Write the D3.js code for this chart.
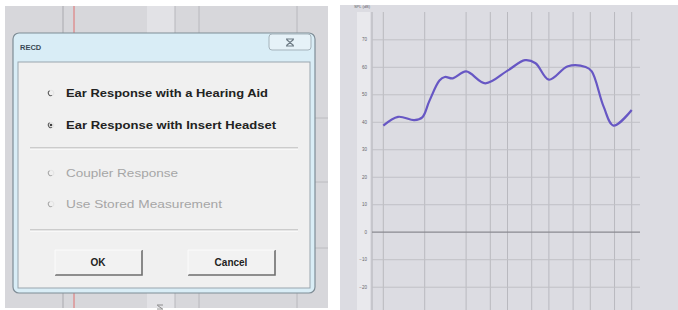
<!DOCTYPE html>
<html><head><meta charset="utf-8">
<script src="https://cdn.jsdelivr.net/npm/d3@7"></script>
<style>body{margin:0;background:#fff}svg{display:block}</style>
</head><body>
<svg id="c" width="678" height="310"></svg>
<script>
// ---- data ----
const freqTicks = [125,250,500,750,1000,1500,2000,3000,4000,6000,8000];
const dbTicks = [70,60,50,40,30,20,10,0,-10,-20];
const curveFreq = [125,160,210,240,270,320,350,400,500,690,1000,1340,1600,2000,2750,3700,4100,5000,5900,8000];
const curveDb   = [38.6,41.8,40.6,41.6,47.5,55.0,56.3,55.8,58.3,54.0,58.6,62.4,61.3,55.3,60.2,59.9,58.3,45.5,38.6,44.3];
const yLabel = "SPL (dB)";
const dialogTitle = "RECD";
const options = ["Ear Response with a Hearing Aid","Ear Response with Insert Headset","Coupler Response","Use Stored Measurement"];
const optEnabled = [true,true,false,false];
const optSelected = [false,true,false,false];
const buttons = ["OK","Cancel"];

const svg = d3.select("#c");
const font = "'Liberation Sans', Arial, sans-serif";

// ================= right panel: chart =================
const R = svg.append("g");
R.append("rect").attr("x",340).attr("y",5).attr("width",338).attr("height",305).attr("fill","#dcdce2");
R.append("rect").attr("x",357).attr("y",12).attr("width",13).attr("height",298).attr("fill","#e9e9ed");

const x = d3.scaleLog().domain([125,8000]).range([383.3,631.7]);
const y = d3.scaleLinear().domain([-20,70]).range([286.7,39.3]);

// vertical grid
R.append("g").selectAll("line").data(freqTicks).join("line")
  .attr("x1",d=>x(d)).attr("x2",d=>x(d)).attr("y1",12).attr("y2",310)
  .attr("stroke","#b9b9bf").attr("stroke-width",1);
R.append("line").attr("x1",372).attr("x2",372).attr("y1",12).attr("y2",310).attr("stroke","#b0b0b6");

// horizontal grid via axis
const yAxis = d3.axisLeft(y).tickValues(dbTicks).tickSize(-268).tickPadding(3);
const ga = R.append("g").attr("transform","translate(372,0)").call(yAxis);
ga.select(".domain").remove();
ga.selectAll(".tick line").attr("stroke",d=>d===0?"#8a8a90":"#c0c0c6").attr("stroke-width",d=>d===0?1.2:1);
ga.selectAll(".tick text").attr("font-size",4.5).attr("fill","#66666c").attr("font-family",font).attr("x",-5);

R.append("text").attr("x",362).attr("y",8).attr("font-size",4).attr("fill","#66666c")
  .attr("font-family",font).attr("text-anchor","middle").text(yLabel);

// curve
const pts = curveFreq.map((f,i)=>[f,curveDb[i]]);
R.append("path").datum(pts)
  .attr("d",d3.line().x(d=>x(d[0])).y(d=>y(d[1])).curve(d3.curveCatmullRom.alpha(0.5)))
  .attr("fill","none").attr("stroke","#6757c4").attr("stroke-width",2.2);

// ================= left panel: dialog screenshot =================
const L = svg.append("g");
L.append("rect").attr("x",5).attr("y",6).attr("width",323).attr("height",302).attr("fill","#d7d7db");
L.append("rect").attr("x",147).attr("y",6).attr("width",28).attr("height",302).attr("fill","#e2e2e6");
[[63,"#a9a9ae"],[175,"#b8b8bd"],[199,"#b8b8bd"],[297,"#b8b8bd"]].forEach(([xx,c])=>{
  L.append("line").attr("x1",xx).attr("x2",xx).attr("y1",6).attr("y2",308).attr("stroke",c);
});
L.append("line").attr("x1",74).attr("x2",74).attr("y1",6).attr("y2",308).attr("stroke","#e07070");
[118,182,248].forEach(yy=>L.append("line").attr("x1",310).attr("x2",328).attr("y1",yy).attr("y2",yy).attr("stroke","#bcbcc0"));

// dialog frame
L.append("rect").attr("x",13).attr("y",33).attr("width",302).attr("height",260).attr("rx",6)
  .attr("fill","#d9edf6").attr("stroke","#7f8d96").attr("stroke-width",1.2);
L.append("text").attr("x",20).attr("y",50).attr("font-size",7.5).attr("font-weight","bold")
  .attr("font-family",font).attr("fill","#3a4a55").text(dialogTitle);
L.append("rect").attr("x",269).attr("y",34).attr("width",42).attr("height",16).attr("rx",3)
  .attr("fill","#e6f2f8").attr("stroke","#a5b3bb");
// close glyph
L.append("path").attr("d","M286.5,39.5 L293.5,45.5 M293.5,39.5 L286.5,45.5 M286,39 H294 M286,46 H294")
  .attr("stroke","#6d7a84").attr("stroke-width",1.1).attr("fill","none");
L.append("rect").attr("x",18).attr("y",62).attr("width",292).attr("height",226)
  .attr("fill","#f0f0f0").attr("stroke","#9aa6ae");

// options
const optY = [93,125,173,204];
const optW = [202,210,112,156];
const arc = d3.arc().innerRadius(2.2).outerRadius(3.2);
const og = L.append("g").selectAll("g").data(options).join("g")
  .attr("transform",(d,i)=>`translate(51,${optY[i]})`);
og.append("path").attr("d",arc({startAngle:-Math.PI*0.15,endAngle:-Math.PI*1.15}))
  .attr("fill",(d,i)=>optEnabled[i]?"#5a5a5a":"#a8a8a8");
og.append("path").attr("d",arc({startAngle:-Math.PI*0.15,endAngle:Math.PI*0.85}))
  .attr("fill","#e4e4e4");
og.filter((d,i)=>optSelected[i]).append("circle").attr("r",1.3).attr("fill","#404040");
og.append("text").attr("x",15).attr("y",4)
  .attr("font-size",11).attr("font-weight",(d,i)=>optEnabled[i]?"bold":"normal")
  .attr("font-family",font).attr("fill",(d,i)=>optEnabled[i]?"#222":"#a6a6a6")
  .attr("textLength",(d,i)=>optW[i]).attr("lengthAdjust","spacingAndGlyphs").text(d=>d);

// separators
[148,230].forEach(yy=>{
  L.append("line").attr("x1",30).attr("x2",298).attr("y1",yy).attr("y2",yy).attr("stroke","#a8a8a8");
  L.append("line").attr("x1",30).attr("x2",298).attr("y1",yy+1).attr("y2",yy+1).attr("stroke","#ffffff");
});

// buttons
const bx = [55,188];
buttons.forEach((b,i)=>{
  const g = L.append("g");
  g.append("rect").attr("x",bx[i]).attr("y",250).attr("width",87).attr("height",25).attr("fill","#f2f2f2");
  g.append("path").attr("d",`M${bx[i]},275 H${bx[i]+87} V250`).attr("fill","none").attr("stroke","#6e6e6e").attr("stroke-width",1.6);
  g.append("path").attr("d",`M${bx[i]},275 V250 H${bx[i]+87}`).attr("fill","none").attr("stroke","#fbfbfb").attr("stroke-width",1);
  g.append("text").attr("x",bx[i]+43).attr("y",266).attr("text-anchor","middle")
    .attr("font-size",10).attr("font-weight","bold").attr("font-family",font).attr("fill","#222").text(b);
});
L.append("path").attr("d","M157,305 H163 M157,309 H163 M157.5,305.5 L162.5,309").attr("stroke","#777").attr("stroke-width",0.8);
</script>
</body></html>
